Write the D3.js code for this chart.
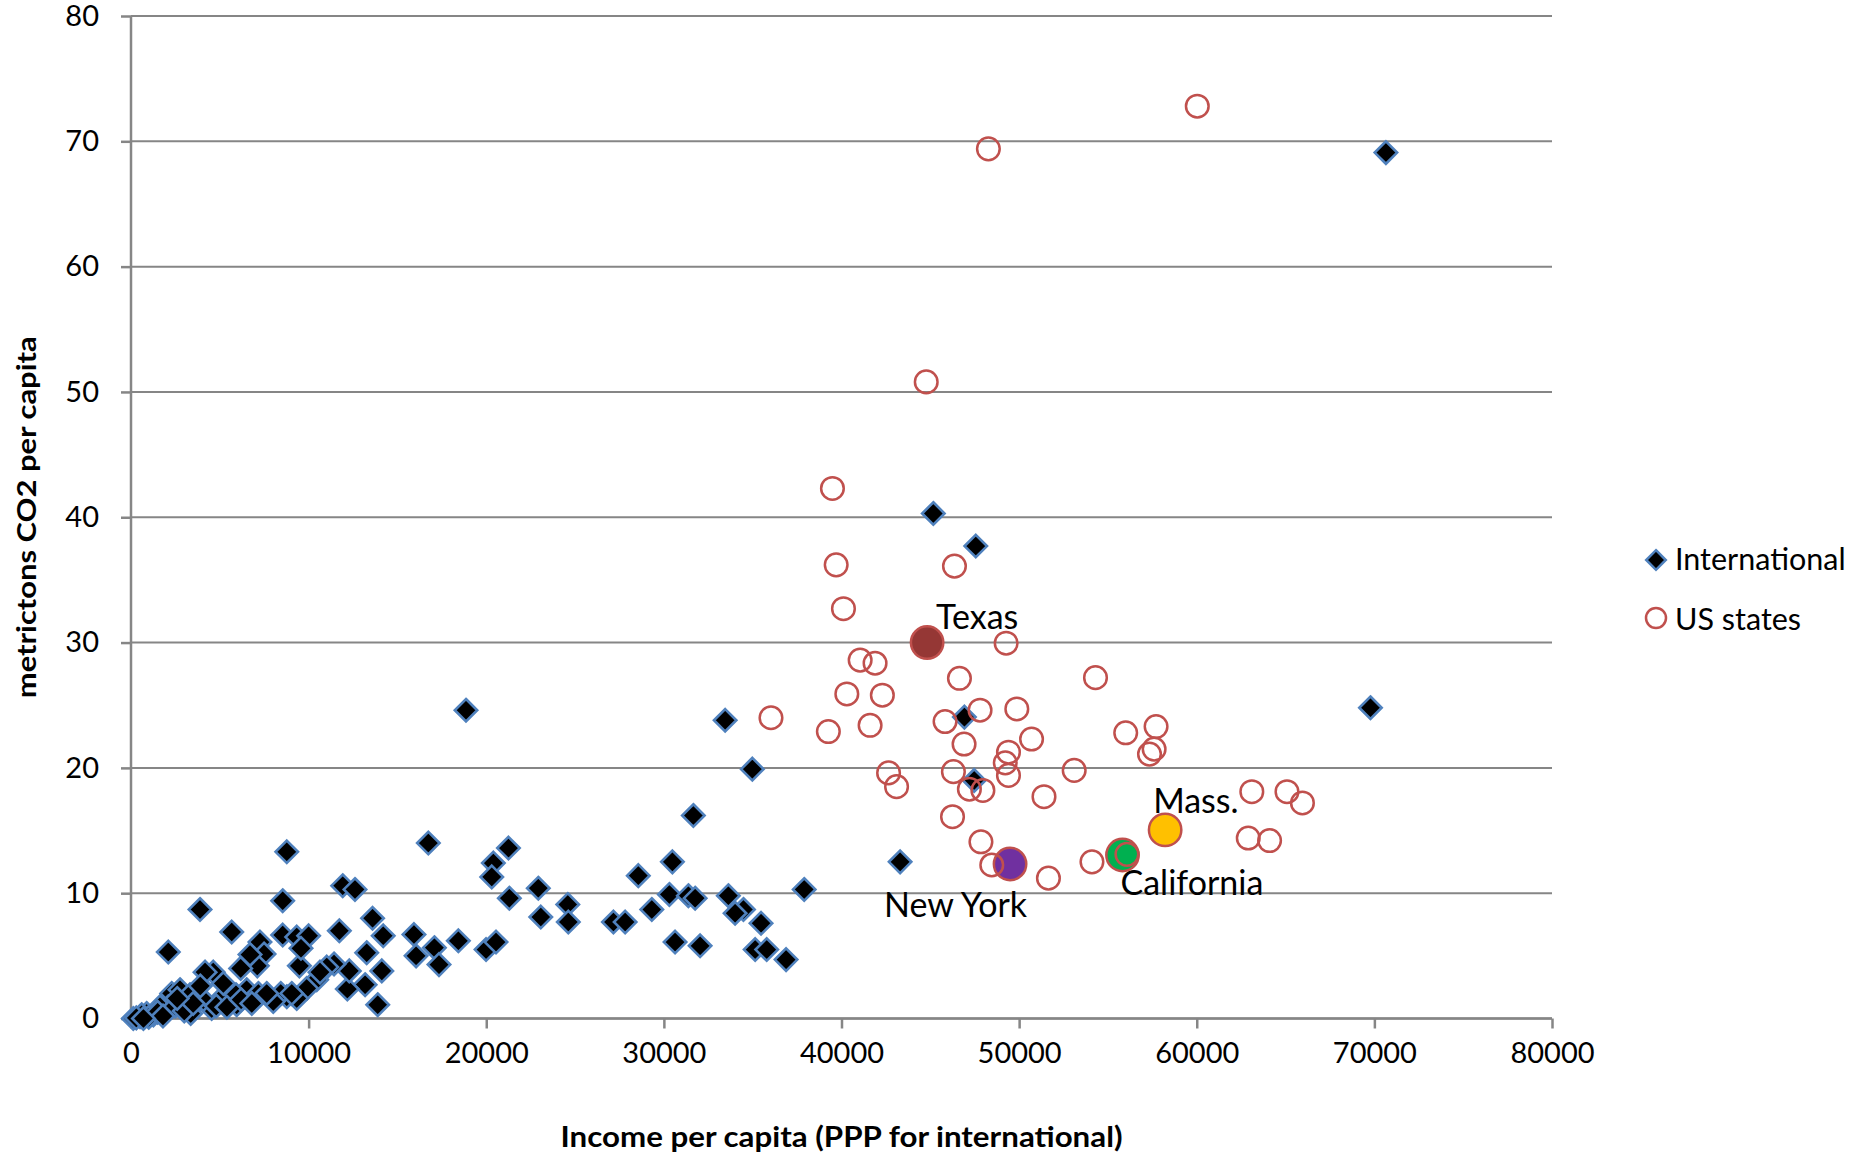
<!DOCTYPE html>
<html>
<head>
<meta charset="utf-8">
<script src="https://cdn.jsdelivr.net/npm/d3@7/dist/d3.min.js"></script>
<style>
  body { margin: 0; background: #fff; }
  text { font-family: Lato, 'Open Sans', sans-serif; fill: #000; }
</style>
</head>
<body>
<svg id="chart" width="1870" height="1157"></svg>
<script>
'use strict';

// income per capita, metric tons CO2 per capita
const intlPoints = [
  [8770, 13.3], [8540, 9.4], [3885, 8.7], [2100, 5.3], [5670, 6.9], [11920, 10.6],
  [12610, 10.3], [13600, 8.0], [14200, 6.6], [11730, 7.0], [13270, 5.25], [14120, 3.8],
  [13180, 2.7], [12180, 2.35], [13890, 1.1], [12290, 3.8], [11430, 4.35], [10455, 3.1],
  [9890, 2.4], [9330, 1.6], [9480, 4.2], [8540, 6.66], [9330, 6.5], [10000, 6.6],
  [9570, 5.6], [8770, 1.74], [8430, 2.0], [7260, 6.1], [7490, 5.15], [7110, 4.2],
  [6700, 5.1], [6175, 4.0], [4630, 3.7], [4170, 3.7], [6510, 2.3], [7170, 2.0],
  [5480, 2.1], [5010, 1.5], [4540, 0.8], [3700, 1.3], [3360, 0.4], [2290, 2.0],
  [2100, 0.94], [1260, 0.28], [510, 0.15], [130, 0], [2760, 2.3], [3320, 1.9],
  [4070, 1.5], [9050, 2.0], [8010, 1.35], [5910, 1.9], [5950, 1.1], [7640, 2.0],
  [1630, 0.94], [880, 0.4], [11020, 4.1], [10640, 3.7],
  [600, 0.3], [1000, 0.1], [1500, 0.5], [1800, 0.2], [2500, 1.0], [3000, 0.6],
  [3500, 1.2], [2600, 1.6], [4800, 1.0], [5400, 0.9], [6200, 1.5], [6800, 1.2],
  [3900, 2.6], [5200, 2.8], [300, 0.05], [700, 0.0],
  [18860, 24.6], [33450, 23.8], [34980, 19.9], [31660, 16.2], [16740, 14.0], [21250, 13.6],
  [20400, 12.4], [20310, 11.3], [21300, 9.6], [22930, 10.4], [23070, 8.1], [24590, 9.1],
  [24620, 7.7], [28560, 11.4], [30480, 12.5], [27160, 7.7], [27820, 7.7], [29320, 8.7],
  [30310, 9.9], [31380, 9.8], [31760, 9.6], [30630, 6.1], [32040, 5.8], [33630, 9.8],
  [34480, 8.7], [34010, 8.4], [35470, 7.6], [35140, 5.5], [35790, 5.5], [36880, 4.7],
  [37900, 10.3], [15930, 6.7], [16050, 5.0], [17080, 5.65], [17340, 4.3], [18430, 6.2],
  [19990, 5.5], [20550, 6.1],
  [70650, 69.1], [69780, 24.8], [45170, 40.3], [47560, 37.7], [46920, 24.05],
  [47470, 19.0], [43300, 12.5]
];

const statePoints = [
  [60030, 72.8], [48270, 69.4], [44770, 50.8], [39490, 42.3], [39700, 36.2], [46360, 36.1],
  [40110, 32.7], [49270, 29.95], [41050, 28.6], [41890, 28.35], [46640, 27.15], [54300, 27.2],
  [40300, 25.9], [42300, 25.8], [49870, 24.7], [47800, 24.6], [45830, 23.7], [41610, 23.4],
  [39260, 22.9], [57710, 23.3], [56000, 22.8], [50700, 22.3], [46900, 21.9], [36030, 24.0],
  [49400, 21.25], [49220, 20.4], [49400, 19.4], [46300, 19.7], [42650, 19.6], [43100, 18.5],
  [47200, 18.3], [47960, 18.2], [51400, 17.7], [53100, 19.8], [57340, 21.1], [57600, 21.5],
  [46250, 16.1], [47850, 14.1], [48460, 12.25], [51650, 11.2], [54100, 12.5], [63100, 18.1],
  [65080, 18.1], [65950, 17.2], [62900, 14.4], [64100, 14.2], [56070, 13.1]
];

const highlightNames = ['Texas', 'New York', 'California', 'Mass.'];
const highlightPoints = [[44820, 30.0], [49490, 12.33], [55820, 13.05], [58220, 15.05]];
const highlightColors = ['#953735', '#7030A0', '#00B050', '#FFC000'];
// label placement relative to the marker
const highlightLabelOffsets = [[9, -14], [-126, 53], [-2, 40], [-12, -17]];

const seriesNames = ['International', 'US states'];
const xTicks = [0, 10000, 20000, 30000, 40000, 50000, 60000, 70000, 80000];
const yTicks = [0, 10, 20, 30, 40, 50, 60, 70, 80];
const xTitle = 'Income per capita (PPP for international)';
const yTitle = 'metrictons CO2 per capita';

const svg = d3.select('#chart');
const gridColor = '#868686';
const intlFill = '#000';
const intlStroke = '#4F81BD';
const stateStroke = '#C0504D';

const x = d3.scaleLinear().domain([0, 80000]).range([131, 1552]);
const y = d3.scaleLinear().domain([0, 80]).range([1018.5, 16]);

// gridlines
svg.append('g')
  .selectAll('line')
  .data(yTicks)
  .enter()
  .append('line')
  .attr('x1', x(0))
  .attr('x2', x(80000))
  .attr('y1', d => y(d))
  .attr('y2', d => y(d))
  .style('stroke', gridColor)
  .style('stroke-width', 2);

// axes
const xAxis = d3.axisBottom(x).tickValues(xTicks).tickSize(10).tickPadding(14).tickFormat(d3.format('d'));
const yAxis = d3.axisLeft(y).tickValues(yTicks).tickSize(10).tickPadding(22).tickFormat(d3.format('d'));

const gx = svg.append('g').attr('transform', 'translate(0,' + y(0) + ')').call(xAxis);
const gy = svg.append('g').attr('transform', 'translate(' + x(0) + ',0)').call(yAxis);
[gx, gy].forEach(function(g) {
  g.select('.domain').style('stroke', gridColor).style('stroke-width', 2.5);
  g.selectAll('.tick line').style('stroke', gridColor).style('stroke-width', 2.5);
  g.selectAll('.tick text').style('font-size', '29px').style('font-family', 'Lato, sans-serif').style('fill', '#000');
});
gx.select('.domain').attr('d', 'M' + x(0) + ',0H' + x(80000));
gy.select('.domain').attr('d', 'M0,' + y(0) + 'V' + y(80));

// axis titles
svg.append('text')
  .attr('x', (x(0) + x(80000)) / 2)
  .attr('y', 1147)
  .attr('text-anchor', 'middle')
  .attr('textLength', 562)
  .attr('lengthAdjust', 'spacingAndGlyphs')
  .style('font-size', '28px')
  .style('font-weight', 'bold')
  .text(xTitle);

svg.append('text')
  .attr('transform', 'translate(36,' + (y(0) + y(80)) / 2 + ') rotate(-90)')
  .attr('text-anchor', 'middle')
  .attr('textLength', 362)
  .attr('lengthAdjust', 'spacingAndGlyphs')
  .style('font-size', '27px')
  .style('font-weight', 'bold')
  .text(yTitle);

const diamond = function(h) {
  return 'M0,' + (-h) + 'L' + h + ',0L0,' + h + 'L' + (-h) + ',0Z';
};

// international series
svg.append('g')
  .selectAll('path')
  .data(intlPoints)
  .enter()
  .append('path')
  .attr('d', diamond(11.2))
  .attr('transform', d => 'translate(' + x(d[0]) + ',' + y(d[1]) + ')')
  .style('fill', intlFill)
  .style('stroke', intlStroke)
  .style('stroke-width', 2.6);

// highlighted states
svg.append('g')
  .selectAll('circle')
  .data(highlightPoints)
  .enter()
  .append('circle')
  .attr('cx', d => x(d[0]))
  .attr('cy', d => y(d[1]))
  .attr('r', 16.2)
  .style('fill', (d, i) => highlightColors[i])
  .style('stroke', stateStroke)
  .style('stroke-width', 2.5);

// US states series
svg.append('g')
  .selectAll('circle')
  .data(statePoints)
  .enter()
  .append('circle')
  .attr('cx', d => x(d[0]))
  .attr('cy', d => y(d[1]))
  .attr('r', 11.3)
  .style('fill', 'none')
  .style('stroke', stateStroke)
  .style('stroke-width', 2.5);

// state labels
svg.append('g')
  .selectAll('text')
  .data(highlightPoints)
  .enter()
  .append('text')
  .attr('x', (d, i) => x(d[0]) + highlightLabelOffsets[i][0])
  .attr('y', (d, i) => y(d[1]) + highlightLabelOffsets[i][1])
  .style('font-size', '34px')
  .text((d, i) => highlightNames[i]);

// legend
const legend = svg.append('g').attr('transform', 'translate(1656,560)');
legend.append('path')
  .attr('d', diamond(9.8))
  .style('fill', intlFill)
  .style('stroke', intlStroke)
  .style('stroke-width', 2.5);
legend.append('circle')
  .attr('cy', 58)
  .attr('r', 10)
  .style('fill', 'none')
  .style('stroke', stateStroke)
  .style('stroke-width', 2.5);
legend.selectAll('text.legend-text')
  .data(seriesNames)
  .enter()
  .append('text')
  .attr('class', 'legend-text')
  .attr('x', 19)
  .attr('y', (d, i) => 10 + i * 60)
  .style('font-size', '30.5px')
  .text(d => d);
</script>
</body>
</html>
